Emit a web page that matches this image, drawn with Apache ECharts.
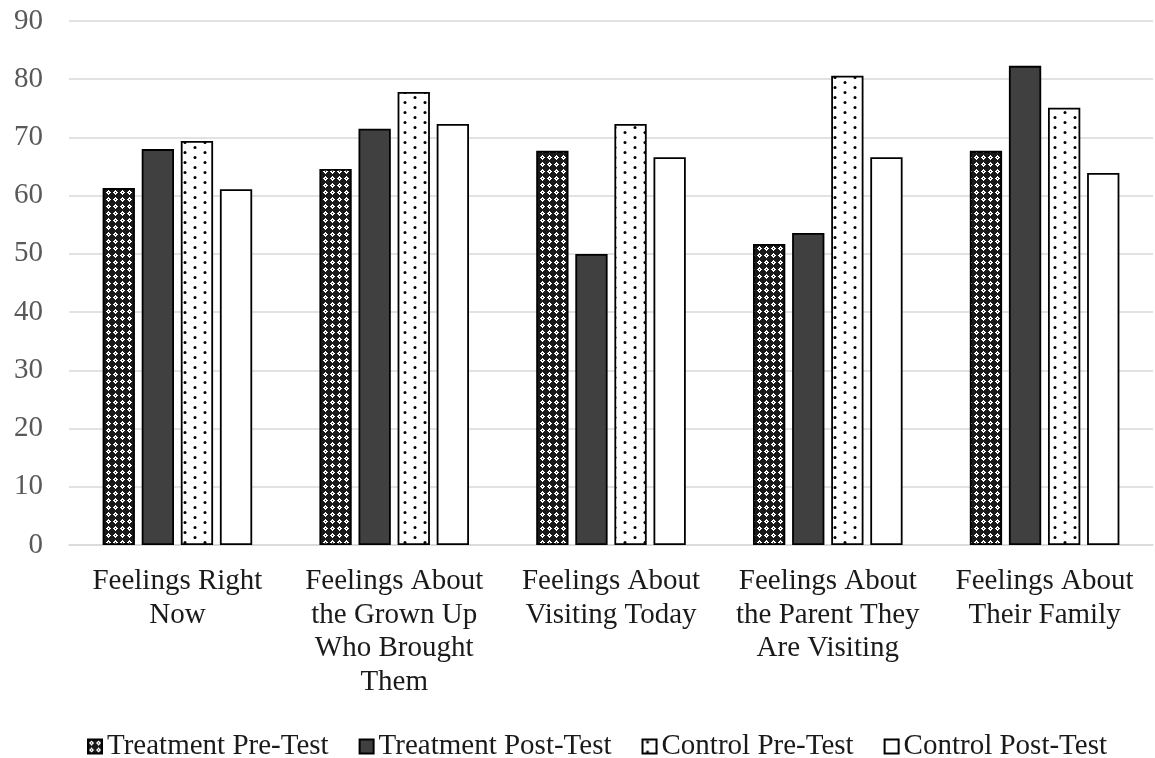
<!DOCTYPE html>
<html><head><meta charset="utf-8">
<script src="https://cdn.jsdelivr.net/npm/echarts@6/dist/echarts.min.js"></script>
<style>html,body{margin:0;padding:0;background:#fff}#c{width:1155px;height:758px}</style>
</head><body><div id="c"></div>
<script>
const categories = ["Feelings Right\nNow", "Feelings About\nthe Grown Up\nWho Brought\nThem", "Feelings About\nVisiting Today", "Feelings About\nthe Parent They\nAre Visiting", "Feelings About\nTheir Family"];
const seriesNames = ["Treatment Pre-Test", "Treatment Post-Test", "Control Pre-Test", "Control Post-Test"];
const treatmentPre = [61.3, 64.6, 67.7, 51.7, 67.7];
const treatmentPost = [68.0, 71.5, 50.0, 53.6, 82.3];
const controlPre = [69.4, 77.8, 72.3, 80.6, 75.1];
const controlPost = [61.1, 72.3, 66.6, 66.6, 63.9];

function hatchCanvas() {
  const c = document.createElement('canvas'); c.width = 7; c.height = 7;
  const g = c.getContext('2d');
  g.fillStyle = '#1a1a1a'; g.fillRect(0, 0, 7, 7);
  g.fillStyle = '#ffffff';
  g.fillRect(3, 1, 1, 5); g.fillRect(1, 3, 5, 1);
  g.fillRect(2, 2, 3, 3);
  g.fillStyle = '#1a1a1a'; g.fillRect(3, 3, 1, 1);
  return c;
}
function dotCanvas() {
  const c = document.createElement('canvas'); c.width = 20; c.height = 10;
  const g = c.getContext('2d');
  g.fillStyle = '#ffffff'; g.fillRect(0, 0, 20, 10);
  g.fillStyle = '#000000';
  g.beginPath(); g.arc(5, 2.5, 1.5, 0, Math.PI * 2); g.fill();
  g.beginPath(); g.arc(15, 7.5, 1.5, 0, Math.PI * 2); g.fill();
  return c;
}
const hatch = { image: hatchCanvas(), repeat: 'repeat' };
const dots = { image: dotCanvas(), repeat: 'repeat' };

const chart = echarts.init(document.getElementById('c'), null, { renderer: 'canvas' });
const font = 'Liberation Serif';
const border = { borderColor: '#000', borderWidth: 1.8 };
const dataSets = [treatmentPre, treatmentPost, controlPre, controlPost];
const fills = [hatch, '#404040', dots, '#ffffff'];
chart.setOption({
  animation: false,
  textStyle: { fontFamily: font },
  grid: { left: 69, right: 2, top: 21, bottom: 213 },
  legend: {
    top: 727, left: 82, itemWidth: 14, itemHeight: 14, itemGap: 30,
    textStyle: { fontFamily: font, fontSize: 29, color: '#1a1a1a', padding: [0, 0, 0, 0] },
    data: seriesNames.map((n) => ({ name: n, icon: 'rect' }))
  },
  xAxis: {
    type: 'category', data: categories,
    axisLine: { lineStyle: { color: '#d9d9d9', width: 1.5 } },
    axisTick: { show: false },
    axisLabel: { fontFamily: font, fontSize: 29, color: '#1a1a1a', lineHeight: 33.5, margin: 20, interval: 0 }
  },
  yAxis: {
    type: 'value', min: 0, max: 90, interval: 10,
    axisLine: { show: false }, axisTick: { show: false },
    splitLine: { lineStyle: { color: '#d9d9d9', width: 1.5 } },
    axisLabel: { fontFamily: font, fontSize: 29, color: '#595959', margin: 26 }
  },
  series: dataSets.map((d, i) => ({
    name: seriesNames[i], type: 'bar', data: d,
    barGap: '21%', barCategoryGap: '31%',
    itemStyle: Object.assign({ color: fills[i] }, border)
  }))
});
</script></body></html>
